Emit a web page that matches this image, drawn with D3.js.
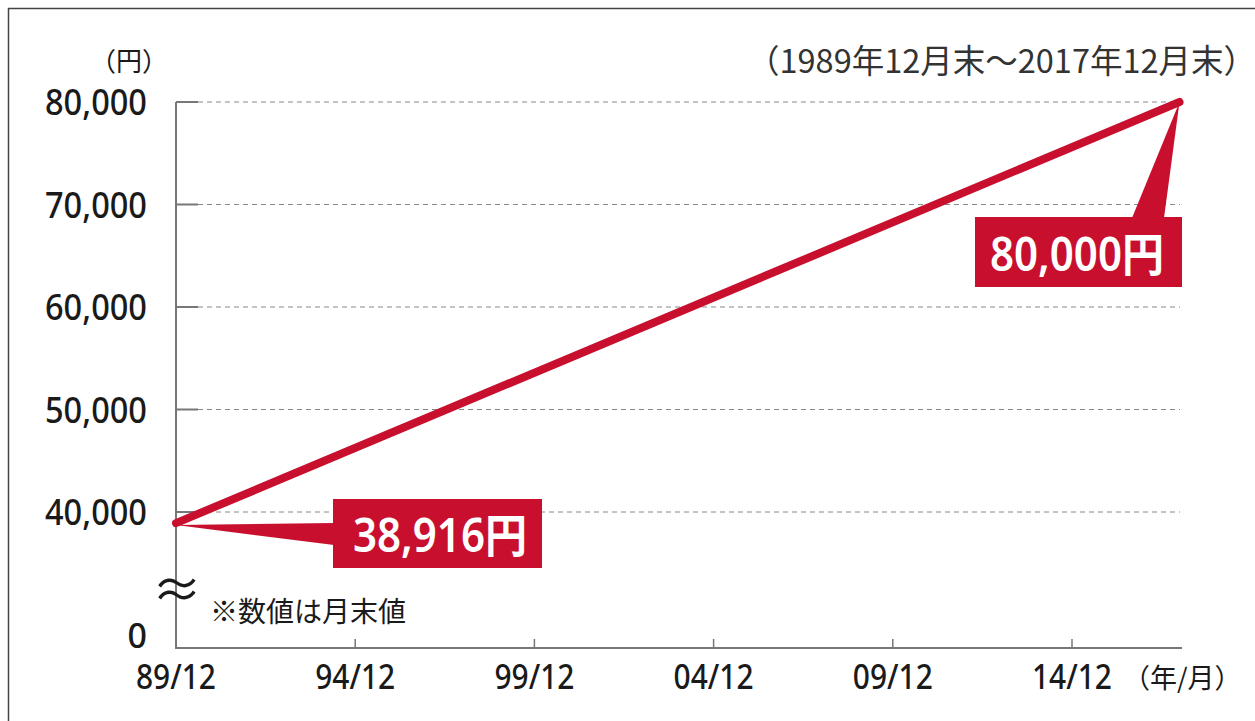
<!DOCTYPE html>
<html><head><meta charset="utf-8">
<script src="https://cdn.jsdelivr.net/npm/d3@7"></script>
<style>
html,body{margin:0;padding:0;background:#fff;}
svg{display:block;}
text{font-family:"Noto Sans","Noto Sans CJK JP",sans-serif;}
.jp{font-family:"Noto Sans CJK JP","Noto Sans",sans-serif;}
</style></head>
<body>
<script>
// ---- data ----
const dates = [1989 + 11/12, 2017 + 11/12];
const values = [38916, 80000];
const yTickValues = [40000, 50000, 60000, 70000, 80000];
const xTickYears = [1989, 1994, 1999, 2004, 2009, 2014];
const xTickLabels = ["89/12", "94/12", "99/12", "04/12", "09/12", "14/12"];
const startLabel = "38,916円";
const endLabel = "80,000円";

const W = 1255, H = 721;
const red = "#c8102e";
const ink = "#1a1a1a";
const svg = d3.select("body").append("svg").attr("width", W).attr("height", H);

// frame
svg.append("rect").attr("x", 8.5).attr("y", 8.5).attr("width", 1260).attr("height", 740)
  .attr("fill", "none").attr("stroke", "#444").attr("stroke-width", 1.5);

const x0 = 176, baseY = 648;
const x = d3.scaleLinear().domain([1989 + 11/12, 2014 + 11/12]).range([x0, 1072]);
const y = d3.scaleLinear().domain([40000, 80000]).range([512, 102]);
const xEnd = 1182, gridEnd = 1180;

// gridlines
const g = svg.append("g");
yTickValues.forEach(v => {
  g.append("line").attr("x1", x0 + 22).attr("x2", gridEnd).attr("y1", y(v)).attr("y2", y(v))
    .attr("stroke", "#888").attr("stroke-width", 1).attr("stroke-dasharray", "5,4");
  g.append("line").attr("x1", x0).attr("x2", x0 + 22).attr("y1", y(v)).attr("y2", y(v))
    .attr("stroke", "#777").attr("stroke-width", 2);
});

// y tick labels
yTickValues.forEach(v => {
  svg.append("text").attr("x", 147).attr("y", y(v) + 13).attr("text-anchor", "end")
    .attr("font-size", 36).attr("font-weight", 500).attr("fill", ink)
    .attr("textLength", 102).attr("lengthAdjust", "spacingAndGlyphs").text(d3.format(",")(v));
});
svg.append("text").attr("x", 147).attr("y", baseY).attr("text-anchor", "end")
  .attr("font-size", 34).attr("font-weight", 500).attr("fill", ink).text("0");

// axes
svg.append("line").attr("x1", x0).attr("x2", x0).attr("y1", y(80000)).attr("y2", baseY)
  .attr("stroke", "#777").attr("stroke-width", 2);
svg.append("line").attr("x1", x0 - 1).attr("x2", xEnd).attr("y1", baseY).attr("y2", baseY)
  .attr("stroke", "#777").attr("stroke-width", 2);

// x ticks
xTickYears.forEach((yr, i) => {
  const xx = x(yr + 11/12);
  if (i > 0) svg.append("line").attr("x1", xx).attr("x2", xx).attr("y1", baseY - 9).attr("y2", baseY)
    .attr("stroke", "#777").attr("stroke-width", 1.5);
  svg.append("text").attr("x", xx).attr("y", 689).attr("text-anchor", "middle")
    .attr("font-size", 34).attr("font-weight", 500).attr("fill", ink)
    .attr("textLength", 80).attr("lengthAdjust", "spacingAndGlyphs").text(xTickLabels[i]);
});
svg.append("text").attr("class", "jp").attr("x", 1123).attr("y", 688)
  .attr("font-size", 27).attr("fill", ink).text("（年/月）");

// axis break
svg.append("text").attr("x", x0 + 1).attr("y", 608).attr("text-anchor", "middle")
  .attr("font-size", 50).attr("fill", ink).text("≈");

// unit labels
svg.append("text").attr("class", "jp").attr("x", 90).attr("y", 71)
  .attr("font-size", 26).attr("fill", ink).text("（円）");
svg.append("text").attr("class", "jp").attr("x", 1256).attr("y", 73).attr("text-anchor", "end")
  .attr("font-size", 32.5).attr("fill", "#333").text("（1989年12月末～2017年12月末）");
svg.append("text").attr("class", "jp").attr("x", 210).attr("y", 622)
  .attr("font-size", 28).attr("fill", ink).text("※数値は月末値");

// line
const line = d3.line().x((d, i) => x(dates[i])).y(d => y(d));
svg.append("path").datum(values).attr("d", line).attr("fill", "none")
  .attr("stroke", red).attr("stroke-width", 8).attr("stroke-linecap", "round");

// callouts
const px0 = x(dates[0]), py0 = y(values[0]);
const px1 = x(dates[1]), py1 = y(values[1]);
// start callout
svg.append("path").attr("d", `M${px0},${py0 + 2} L334,${py0} L334,${py0 + 22} Z`).attr("fill", red);
svg.append("rect").attr("x", 333).attr("y", 499).attr("width", 209).attr("height", 69).attr("fill", red);
svg.append("text").attr("x", 440).attr("y", 552).attr("text-anchor", "middle")
  .attr("font-size", 46).attr("font-weight", 600).attr("fill", "#fff")
  .attr("textLength", 174).attr("lengthAdjust", "spacingAndGlyphs").text(startLabel);
// end callout
svg.append("path").attr("d", `M${px1},${py1} L1132,218 L1164,218 Z`).attr("fill", red);
svg.append("rect").attr("x", 975).attr("y", 217).attr("width", 207).attr("height", 70).attr("fill", red);
svg.append("text").attr("x", 1077).attr("y", 271).attr("text-anchor", "middle")
  .attr("font-size", 46).attr("font-weight", 600).attr("fill", "#fff")
  .attr("textLength", 174).attr("lengthAdjust", "spacingAndGlyphs").text(endLabel);
</script>
</body></html>
